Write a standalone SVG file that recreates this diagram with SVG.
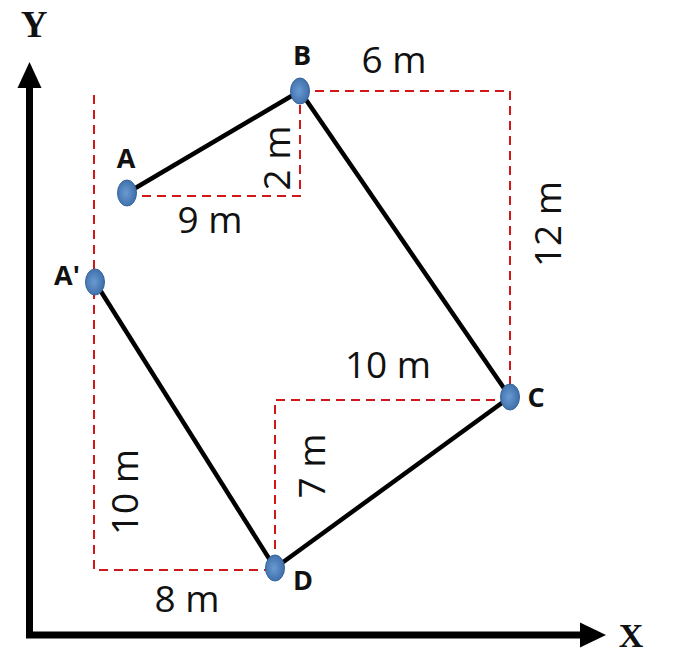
<svg xmlns="http://www.w3.org/2000/svg" width="685" height="654" viewBox="0 0 685 654">
<defs>
<radialGradient id="ng" cx="0.45" cy="0.5" r="0.6">
<stop offset="0" stop-color="#6a9ad2"/>
<stop offset="1" stop-color="#3a6aa5"/>
</radialGradient>
</defs>
<style>
.axis{stroke:#000;stroke-width:7;fill:none}
.edge{stroke:#000;stroke-width:4.5;fill:none}
.dash{stroke:#d01818;stroke-width:2;stroke-dasharray:9,6;fill:none}
.node{fill:url(#ng);stroke:#36659d;stroke-width:1}
.lbl{font-family:"Open Sans","Liberation Sans",sans-serif;font-size:37px;fill:#111}
.nl{font-family:"Open Sans","Liberation Sans",sans-serif;font-size:27px;font-weight:bold;fill:#111}
.ax{font-family:"Liberation Serif",serif;font-weight:bold;fill:#111}
</style>
<rect width="685" height="654" fill="#fff"/>
<g id="axes">
<polyline class="axis" points="29.5,84 29.5,635 583,635"/>
<polygon points="29.5,62 17.5,88 41.5,88" fill="#000"/>
<polygon points="606,635 580,622.5 580,647.5" fill="#000"/>
<text class="ax" x="34" y="37" font-size="37" text-anchor="middle">Y</text>
<text class="ax" x="631" y="647" font-size="34" text-anchor="middle">X</text>
</g>
<g id="connectors">
<path class="dash" d="M94,95 V570 H275"/>
<path class="dash" d="M127,196 H300 V91"/>
<path class="dash" d="M300,91 H510 V397"/>
<path class="dash" d="M510,400 H275 V568"/>
<line class="edge" x1="127" y1="193" x2="300" y2="91"/>
<line class="edge" x1="300" y1="91" x2="510" y2="397"/>
<line class="edge" x1="510" y1="397" x2="275" y2="568"/>
<line class="edge" x1="95" y1="282" x2="275" y2="568"/>
</g>
<g id="labels">
<text class="lbl" x="394" y="73" text-anchor="middle">6 m</text>
<text class="lbl" x="210" y="233" text-anchor="middle">9 m</text>
<text class="lbl" transform="translate(290,158) rotate(-90)" text-anchor="middle">2 m</text>
<text class="lbl" transform="translate(561,224) rotate(-90)" text-anchor="middle">12 m</text>
<text class="lbl" x="388" y="378" text-anchor="middle">10 m</text>
<text class="lbl" transform="translate(325,466) rotate(-90)" text-anchor="middle">7 m</text>
<text class="lbl" transform="translate(138,492) rotate(-90)" text-anchor="middle">10 m</text>
<text class="lbl" x="187" y="612" text-anchor="middle">8 m</text>
</g>
<g id="node-A"><ellipse class="node" cx="127" cy="193" rx="9.5" ry="13"/><text class="nl" x="126" y="168" text-anchor="middle">A</text></g>
<g id="node-B"><ellipse class="node" cx="300" cy="91" rx="9.5" ry="13"/><text class="nl" x="302" y="65" text-anchor="middle">B</text></g>
<g id="node-Ap"><ellipse class="node" cx="95" cy="282" rx="9.5" ry="13"/><text class="nl" x="67" y="285" text-anchor="middle">A'</text></g>
<g id="node-C"><ellipse class="node" cx="510" cy="397" rx="9.5" ry="13"/><text class="nl" x="536" y="407" text-anchor="middle">C</text></g>
<g id="node-D"><ellipse class="node" cx="275" cy="568" rx="9.5" ry="13"/><text class="nl" x="303" y="590" text-anchor="middle">D</text></g>
</svg>
